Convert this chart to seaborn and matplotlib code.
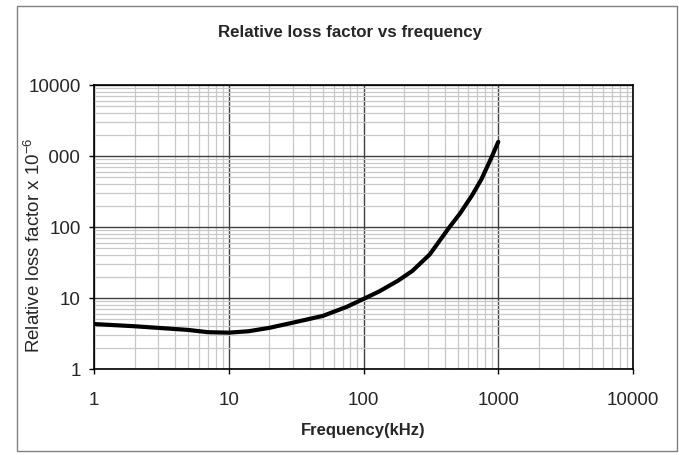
""" Relative loss factor vs frequency - log-log chart """

import pandas as pd
import matplotlib
matplotlib.use("Agg")
import matplotlib.pyplot as plt
import matplotlib.ticker as mticker
from matplotlib.patches import Rectangle
import seaborn as sns

# DATA
freq_khz = [1, 2, 5, 7, 10, 14, 20, 30, 50, 75, 100, 130, 180, 230, 310, 430, 520, 640, 750, 890, 1000]
loss_factor = [4.3, 4.0, 3.55, 3.3, 3.25, 3.4, 3.8, 4.5, 5.6, 7.5, 9.7, 12.3, 17.5, 24, 41, 97, 155, 280, 470, 950, 1580]
x_ticks = [1, 10, 100, 1000, 10000]
y_ticks = [1, 10, 100, 1000, 10000]


def main():
    sns.set_style("white")
    plt.rcParams['font.family'] = ['Liberation Sans', 'DejaVu Sans']
    plt.rcParams['mathtext.fontset'] = 'custom'
    plt.rcParams['mathtext.rm'] = 'Liberation Sans'
    plt.rcParams['mathtext.it'] = 'Liberation Sans:italic'

    df = pd.DataFrame({'freq': freq_khz, 'loss': loss_factor})

    fig = plt.figure(figsize=(6.79, 4.56), dpi=100)
    # outer chart frame
    fig.patches.append(Rectangle((17 / 679, 4 / 456), 660 / 679, 445 / 456,
                                 transform=fig.transFigure, fill=False,
                                 edgecolor='#808080', lw=1, zorder=0))

    ax = fig.add_axes([94 / 679, 86 / 456, 539 / 679, 284 / 456])
    sns.lineplot(data=df, x='freq', y='loss', ax=ax, color='black', lw=3, zorder=5)

    ax.set_xscale('log')
    ax.set_yscale('log')
    ax.set_xlim(1, 10000)
    ax.set_ylim(1, 10000)

    ax.set_xticks(x_ticks)
    ax.set_yticks(y_ticks)
    fmt = mticker.FuncFormatter(lambda v, p: '{:g}'.format(v))
    ax.xaxis.set_major_formatter(fmt)
    ax.yaxis.set_major_formatter(fmt)
    ax.xaxis.set_minor_formatter(mticker.NullFormatter())
    ax.yaxis.set_minor_formatter(mticker.NullFormatter())

    ax.grid(which='minor', color='#c8c8c8', lw=0.9)
    ax.grid(which='major', color='#404040', lw=1.0)
    ax.set_axisbelow(True)

    ax.tick_params(which='major', direction='out', length=3.6, width=1, color='black',
                   labelsize=13.5, pad=12, bottom=True, left=True)
    ax.tick_params(which='minor', length=0)
    ax.tick_params(axis='y', pad=5.8)
    for sp in ax.spines.values():
        sp.set_color('black')
        sp.set_linewidth(1.2)

    ax.set_xlabel('Frequency(kHz)', fontsize=12, fontweight='bold')
    ax.xaxis.set_label_coords(0.5, -0.187)
    # white box behind the y label hides part of the "1000" tick label, as in the original
    ax.set_ylabel('Relative loss factor x 10$^{-6}$', fontsize=13.5,
                  bbox=dict(boxstyle='square,pad=0.25', fc='white', ec='none'))
    ax.yaxis.set_label_coords(-0.093, 0.44)

    fig.text(350 / 679, 1 - 32 / 456, 'Relative loss factor vs frequency',
             ha='center', va='center', fontsize=12.2, fontweight='bold')

    fig.savefig('out.png', dpi=100)
    plt.close(fig)


if __name__ == "__main__":
    main()
